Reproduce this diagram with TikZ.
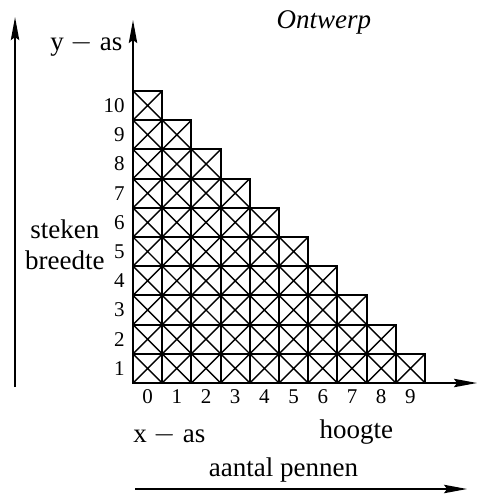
\documentclass[tikz,border=0pt]{standalone}
\usepackage{fontspec}
\setmainfont{Liberation Serif}
\usetikzlibrary{arrows.meta}

\begin{document}
\begin{tikzpicture}[x=14.6pt,y=14.6pt,
    axisarrow/.style={line width=0.8pt,-{Stealth[length=11.5pt,width=4.2pt,inset=1.5pt]}},
    cellbox/.style={line width=1pt},
    crossline/.style={line width=0.7pt},
    lbl/.style={font=\fontsize{13.5}{15.5}\selectfont,inner sep=0pt},
    num/.style={font=\fontsize{10.5}{12}\selectfont,inner sep=0pt}]
  \useasboundingbox (-4.555,-3.801) rectangle (11.815,13.116);
  % staircase of crossed cells: row r holds 11-r cells
  \foreach \r in {1,...,10}{
    \pgfmathtruncatemacro\last{10-\r}
    \foreach \c in {0,...,\last}{
      \draw[crossline] (\c,\r-1) -- ++(1,1) (\c+1,\r-1) -- ++(-1,1);
      \draw[cellbox] (\c,\r-1) rectangle ++(1,1);
    }
    \node[num,anchor=east] (row\r) at (-0.27,\r-0.5) {\r};
  }
  \foreach \c in {0,...,9}
    \node[num] (col\c) at (\c+0.5,-0.48) {\c};
  % axes
  \coordinate (org) at (0,0);
  \coordinate (ytip) at (0,12.43);
  \coordinate (xtip) at (11.78,0);
  \draw[axisarrow] (org) -- (ytip);
  \draw[axisarrow] (org) -- (xtip);
  % outer arrows
  \coordinate (lbot) at (-4.04,-0.14);
  \coordinate (ltip) at (-4.04,12.53);
  \coordinate (bbot) at (0.07,-3.63);
  \coordinate (btip) at (11.44,-3.63);
  \draw[axisarrow] (lbot) -- (ltip);
  \draw[axisarrow] (bbot) -- (btip);
  % labels
  \node[lbl,anchor=east] (yas) at (-0.35,11.58) {y $-$ as};
  \node[lbl] (ontwerp) at (6.54,12.36) {\itshape Ontwerp};
  \node[lbl,align=center] (steken) at (-2.33,4.73) {steken\\breedte};
  \node[lbl,anchor=west] (xas) at (0,-1.78) {x $-$ as};
  \node[lbl] (hoogte) at (7.65,-1.68) {hoogte};
  \node[lbl] (pennen) at (5.15,-2.98) {aantal pennen};
\end{tikzpicture}
\end{document}
